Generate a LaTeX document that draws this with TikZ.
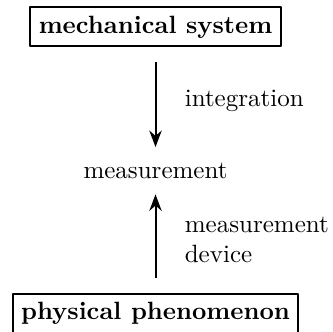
\documentclass[tikz,border=0pt]{standalone}
\usepackage{tikz}
\usetikzlibrary{arrows.meta,positioning}

\begin{document}
\begin{tikzpicture}[>=Stealth,line join=round,
  sysbox/.style={draw,thick,font=\bfseries},
  flow/.style={->,thick,shorten <=6pt,shorten >=2.8pt}]

  % fixed frame, the lower box edge falls just outside
  \useasboundingbox (0,0) rectangle (4.681,4.667);

  %% ---------------------------------------------------------------
  %% the three stages, top to bottom
  %% ---------------------------------------------------------------
  \node[sysbox] (mech) at (2.186,4.288) {mechanical system};
  \node (meas) at (2.186,2.267) {measurement};
  \node[sysbox] (phys) at (2.186,0.262) {physical phenomenon};

  %% ---------------------------------------------------------------
  %% arrows into the measurement
  %% ---------------------------------------------------------------
  \draw[flow] (mech) -- (meas)
    node[midway,right=8pt] {integration};
  \draw[flow] (phys) -- (meas)
    node[midway,right=8pt,align=left] {measurement\\device};

\end{tikzpicture}
\end{document}
